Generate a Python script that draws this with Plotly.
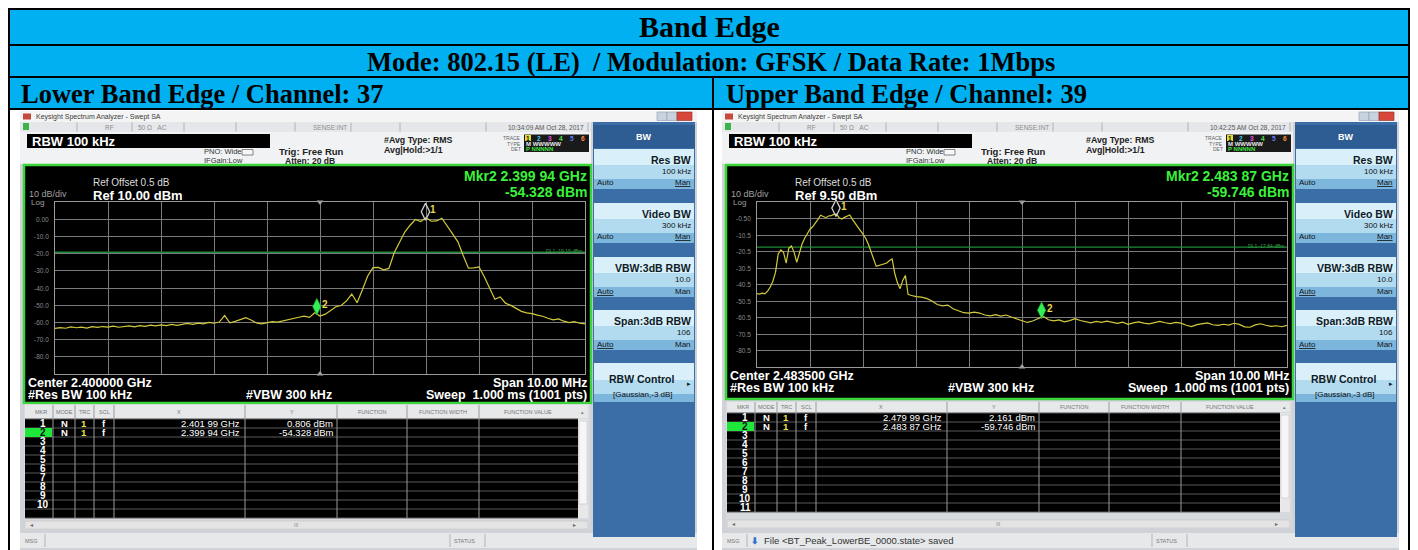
import numpy as np
import plotly.graph_objects as go

W, H = 1418, 550
OFF = 8  # the page body keeps an 8 px margin round the figure
FIG_W, FIG_H = W - OFF, H - OFF
SANS = "Liberation Sans, Arial, sans-serif"
SERIF = "Liberation Serif, Times New Roman, serif"
CELL_BLUE = "#00B0F0"

SPAN_GHZ = 0.010

LOW_CENTER_GHZ = 2.400
LOW_REF_DBM = 10.0
# 101 sweep points, 100 kHz apart (2.395 -> 2.405 GHz)
LOW_TRACE_DBM = [
    -63.5, -63.0, -63.4, -62.6, -63.1, -62.8, -63.3, -62.5, -62.9, -62.4,
    -62.7, -62.2, -62.8, -62.3, -62.0, -62.6, -61.9, -62.3, -61.6, -62.0,
    -61.5, -61.9, -61.2, -61.7, -61.0, -60.6, -61.1, -60.4, -60.8, -60.0,
    -60.5, -59.8, -56.0, -60.2, -59.4, -58.2, -57.3, -58.6, -60.3, -60.8,
    -60.2, -59.5, -59.8, -59.0, -58.3, -57.8, -57.0, -56.4, -57.1, -54.4,
    -56.3, -55.2, -52.8, -50.9, -50.2, -47.5, -43.5, -48.6, -41.0, -33.0,
    -28.2, -28.0, -29.4, -28.6, -19.5, -13.0, -7.5, -3.5, -0.2, -1.4,
    0.8, -1.2, -1.0, 0.6, -4.0, -8.5, -13.0, -21.0, -28.5, -28.3,
    -27.8, -33.5, -40.0, -46.5, -45.2, -48.8, -50.1, -51.9, -53.6, -54.5,
    -54.9, -55.8, -56.4, -57.6, -58.5, -58.0, -59.3, -60.1, -59.6, -60.5,
    -60.8,
]
LOW_MKR_GHZ = [2.40199, 2.39994]
LOW_MKR_DBM = [0.806, -54.328]
LOW_DL_DBM = -19.19
LOW_YTICK_TEXT = ["0.00", "-10.0", "-20.0", "-30.0", "-40.0", "-50.0", "-60.0", "-70.0", "-80.0"]

UP_CENTER_GHZ = 2.4835
UP_REF_DBM = 9.5
# 2.4785 -> 2.4815 GHz, 50 kHz apart
UP_TRACE_FINE_DBM = [
    -46.0, -46.3, -45.8, -46.2, -44.5, -42.0, -38.5, -33.0, -22.0, -19.5,
    -21.0, -27.5, -18.5, -17.2, -21.0, -27.0, -21.5, -16.0, -12.5, -9.5,
    -7.0, -5.5, -3.5, -1.0, 1.5, 0.6, 0.0, 1.0, 1.2, 2.0,
    2.2, 0.0, -0.8, 0.2, 0.8, 1.6, -1.0, -3.5, -5.5, -7.8,
    -10.0, -12.5, -16.0, -20.0, -25.0, -29.5, -29.0, -28.3, -27.9, -27.5,
    -26.0, -25.0, -34.0, -39.5, -43.0, -38.0, -35.0, -46.5, -47.0, -47.6,
    -47.8,
]
# 2.4816 -> 2.4885 GHz, 100 kHz apart
UP_TRACE_DBM = [
    -48.2, -48.9, -50.5, -52.6, -53.4, -53.0, -55.2, -56.3, -57.6,
    -57.9, -57.2, -57.8, -59.0, -59.5, -58.8, -59.6, -59.0, -60.2, -61.3,
    -62.0, -63.5, -62.6, -61.0, -59.8, -61.9, -62.6, -62.0, -63.1, -62.4,
    -61.2, -62.3, -63.0, -63.8, -62.9, -63.5, -62.7, -63.4, -64.0, -63.3,
    -64.6, -63.8, -63.2, -63.9, -64.4, -63.6, -62.9, -63.7, -64.2, -63.5,
    -63.9, -65.2, -66.0, -64.8, -64.2, -63.8, -64.9, -65.3, -64.6, -65.1,
    -64.0, -64.7, -66.2, -66.4, -65.0, -64.3, -65.2, -65.9, -65.5, -66.1,
    -65.3,
]
UP_MKR_GHZ = [2.47999, 2.48387]
UP_MKR_DBM = [2.161, -59.746]
UP_DL_DBM = -17.84
UP_YTICK_TEXT = ["-0.50", "-10.5", "-20.5", "-30.5", "-40.5", "-50.5", "-60.5", "-70.5", "-80.5"]

SOFTKEYS = [("Res BW", "100 kHz", "Man"), ("Video BW", "300 kHz", "Man"),
            ("VBW:3dB RBW", "10.0", "Auto"), ("Span:3dB RBW", "106", "Auto")]
MKR_HEADER = [("MKR", 41), ("MODE", 64), ("TRC", 84), ("SCL", 104), ("X", 179), ("Y", 292),
              ("FUNCTION", 372), ("FUNCTION WIDTH", 443), ("FUNCTION VALUE", 528)]

low_f = LOW_CENTER_GHZ - SPAN_GHZ / 2 + np.arange(len(LOW_TRACE_DBM)) * SPAN_GHZ / 100
up_start = UP_CENTER_GHZ - SPAN_GHZ / 2
up_f = np.concatenate([up_start + np.arange(len(UP_TRACE_FINE_DBM)) * SPAN_GHZ / 200,
                       up_start + 0.003 + np.arange(1, len(UP_TRACE_DBM) + 1) * SPAN_GHZ / 100])
up_dbm = UP_TRACE_FINE_DBM + UP_TRACE_DBM

shapes, annos = [], []


# page pixel -> paper fraction
def X(x):
    return (x - OFF) / FIG_W


def Y(y):
    return 1 - (y - OFF) / FIG_H


def box(x0, y0, x1, y1, fill="rgba(0,0,0,0)", line=None, lw=1):
    shapes.append(dict(type="rect", xref="paper", yref="paper", x0=X(x0), x1=X(x1), y0=Y(y1), y1=Y(y0),
                       fillcolor=fill, layer="below",
                       line=dict(color=line or "rgba(0,0,0,0)", width=lw if line else 0)))


def seg(x0, y0, x1, y1, color, lw=1):
    shapes.append(dict(type="line", xref="paper", yref="paper", x0=X(x0), x1=X(x1), y0=Y(y0), y1=Y(y1),
                       line=dict(color=color, width=lw), layer="below"))


def txt(x, y, s, size=8, color="#222", anchor="left", bold=False, family=SANS, under=False):
    font = dict(size=size, color=color, family=family)
    if bold:
        font["weight"] = "bold"
    if under:
        font["lineposition"] = "under"
    annos.append(dict(x=X(x), y=Y(y), xref="paper", yref="paper", text=s, showarrow=False,
                      xanchor=anchor, yanchor="middle", font=font, borderpad=0))


def ghz_str(f):
    s = f"{f:.5f}"
    return s[:5] + " " + s[5:] + " GHz"


# ---- document table header ----
box(9, 8, 1409, 109, CELL_BLUE)
for yy in (9, 45, 77, 109):
    seg(8, yy, 1410, yy, "#000", 2)
for xx in (9, 1409):
    seg(xx, 8, xx, 550, "#000", 2)
seg(713, 77, 713, 550, "#000", 2)
txt(709, 27, "Band Edge", 30, "#000", "center", True, SERIF)
txt(711, 61.5, "Mode: 802.15 (LE)  / Modulation: GFSK / Data Rate: 1Mbps", 26.5, "#000", "center", True, SERIF)
txt(20, 93.5, "Lower Band Edge / Channel: 37", 26.5, "#000", "left", True, SERIF)
txt(725, 93.5, "Upper Band Edge / Channel: 39", 26.5, "#000", "left", True, SERIF)

PANELS = [
    dict(ox=0, xa="x", ya="y", date="10:34:09 AM Oct 28, 2017", center=LOW_CENTER_GHZ, ref=LOW_REF_DBM,
         f=low_f, dbm=LOW_TRACE_DBM, mk_f=LOW_MKR_GHZ, mk_v=LOW_MKR_DBM, dl=LOW_DL_DBM, yt=LOW_YTICK_TEXT,
         msg="", disp_bot=403, grid_bot=374, cen_y=383, res_y=395, hdr=(405, 418), rows_top=419,
         nrows=10, scroll=(521, 529)),
    dict(ox=702, xa="x2", ya="y2", date="10:42:25 AM Oct 28, 2017", center=UP_CENTER_GHZ, ref=UP_REF_DBM,
         f=up_f, dbm=up_dbm, mk_f=UP_MKR_GHZ, mk_v=UP_MKR_DBM, dl=UP_DL_DBM, yt=UP_YTICK_TEXT,
         msg="File &lt;BT_Peak_LowerBE_0000.state&gt; saved", disp_bot=399, grid_bot=367, cen_y=376,
         res_y=388, hdr=(402, 412), rows_top=413, nrows=11, scroll=(520, 528)),
]
GRID_TOP = 202

fig = go.Figure()
for p in PANELS:
    o = p["ox"]
    # window frame + title bar
    box(o + 20, 111, o + 697, 550, "#cfd3d8")
    box(o + 20, 111, o + 697, 122, "#f4f4f4")
    box(o + 23, 113.5, o + 31, 119.5, "#c64a3c")
    txt(o + 35, 116.5, "Keysight Spectrum Analyzer - Swept SA", 7, "#3a3a3a")
    box(o + 657, 112, o + 667, 120.5, "#c9d3e0", "#8d9bb0", 0.6)
    box(o + 667, 112, o + 677, 120.5, "#c9d3e0", "#8d9bb0", 0.6)
    box(o + 677, 112, o + 692, 120.5, "#d9473a", "#8b2f26", 0.6)
    # status strip
    box(o + 20, 122, o + 591, 132, "#e5e7ea")
    box(o + 23, 123, o + 29, 130, "#3cb44b")
    for sx in (77, 132, 184, 236, 295, 351, 400, 486, 588):
        seg(o + sx, 122.5, o + sx, 131.5, "#aeb3b9")
    txt(o + 104, 127, "RF", 6.5, "#8c8c8c")
    txt(o + 137, 127, "50 Ω   AC", 6.5, "#8c8c8c")
    txt(o + 312, 127, "SENSE:INT", 6.5, "#8c8c8c")
    txt(o + 585, 127, p["date"], 6.5, "#555", "right")
    # setup row
    box(o + 20, 132, o + 591, 164, "#f0f2f4")
    box(o + 27, 134, o + 270, 148, "#000")
    txt(o + 31, 141, "RBW 100 kHz", 13, "#fff", bold=True)
    txt(o + 203, 152, "PNO: Wide", 7.5, "#333")
    box(o + 242, 149.5, o + 253, 155, "#f7f7f7", "#666", 0.8)
    txt(o + 203, 160.5, "IFGain:Low", 7.5, "#333")
    txt(o + 278, 151, "Trig: Free Run", 9.5, "#222", bold=True)
    txt(o + 284, 161, "Atten: 20 dB", 8.5, "#222", bold=True)
    txt(o + 383, 140, "#Avg Type: RMS", 8.8, "#222", bold=True)
    txt(o + 383, 150, "Avg|Hold:>1/1", 8.8, "#222", bold=True)
    txt(o + 522, 138, "TRACE", 5, "#666", "right")
    txt(o + 522, 143.5, "TYPE", 5, "#666", "right")
    txt(o + 522, 149, "DET", 5, "#666", "right")
    box(o + 524, 134.5, o + 589, 152, "#1a1a1a")
    box(o + 525, 135, o + 531, 141, "#e6dc3a")
    for i, c in enumerate(["#111", "#40d0f0", "#f050f0", "#50e050", "#6080ff", "#ff9040"]):
        txt(o + 528 + i * 11, 138.3, str(i + 1), 6.5, c, "center", True)
    txt(o + 525, 143.8, "M WWWWW", 6, "#e8e8e8", bold=True)
    txt(o + 525, 149.3, "P NNNNN", 6, "#40e040", bold=True)

    # display
    box(o + 24, 165, o + 591, p["disp_bot"], "#000", "#3bd43b", 2.5)
    mk2 = ghz_str(p["mk_f"][1])
    txt(o + 588, 176.5, "Mkr2 " + mk2, 14, "#3cf03c", "right", True)
    txt(o + 588, 191.5, f"{p['mk_v'][1]:.3f} dBm", 14, "#3cf03c", "right", True)
    txt(o + 92, 183, "Ref Offset 0.5 dB", 10, "#dcdcdc")
    txt(o + 28, 194, "10 dB/div", 9, "#a0a0a0")
    txt(o + 92, 195, f"Ref {p['ref']:.2f} dBm", 13, "#fff", bold=True)
    txt(o + 30, 202, "Log", 8, "#a0a0a0")
    txt(o + 27, p["cen_y"], f"Center {p['center']:.6f} GHz", 12.5, "#fff", bold=True)
    txt(o + 27, p["res_y"], "#Res BW 100 kHz", 12.5, "#fff", bold=True)
    txt(o + 245, p["res_y"], "#VBW 300 kHz", 12.5, "#fff", bold=True)
    txt(o + 588, p["cen_y"], "Span 10.00 MHz", 12.5, "#fff", "right", True)
    txt(o + 588, p["res_y"], "Sweep  1.000 ms (1001 pts)", 12.5, "#fff", "right", True)
    for i, t in enumerate(p["yt"]):
        annos.append(dict(x=X(o + 51), xref="paper", y=p["ref"] - 10 * (i + 1), yref=p["ya"], text=t,
                          showarrow=False, xanchor="right", yanchor="middle",
                          font=dict(size=6.5, color="#8a8a8a", family=SANS)))
    annos.append(dict(x=X(o + 584), xref="paper", y=p["dl"], yref=p["ya"], yshift=1,
                      text=f"DL1 {p['dl']:.2f} dBm", showarrow=False, xanchor="right", yanchor="middle",
                      font=dict(size=5, color="#3aa04a", family=SANS)))

    # marker table
    h0, h1 = p["hdr"]
    rt = p["rows_top"]
    rb = rt + 9 * 11
    s0, s1 = p["scroll"]
    box(o + 24, h0 - 1, o + 590, s1 + 1, "#d6d9dd")
    box(o + 25, h0, o + 588, h1, "#e6e8ea")
    for name, cx in MKR_HEADER:
        txt(o + cx, (h0 + h1) / 2, name, 5.5, "#777", "center")
    txt(o + 582, (h0 + h1) / 2, "▴", 5, "#777", "center")
    box(o + 25, rt, o + 578, rb, "#000")
    for r in range(12):
        seg(o + 25, rt + 9 * r, o + 578, rt + 9 * r, "#5a5a5a", 1)
    for cx in (53, 75, 94, 114, 245, 337, 407, 479):
        seg(o + cx, h0, o + cx, rb, "#9a9a9a", 1)
    box(o + 578, rt, o + 588, rb, "#e8e8e8")
    box(o + 579, rt + 2, o + 587, rb - 14, "#f6f6f6", "#b5b5b5", 0.5)
    box(o + 25, rt + 9, o + 52, rt + 18, "#1ee63a")
    for r in range(p["nrows"]):
        txt(o + 43, rt + 4.5 + 9 * r, str(r + 1), 10, "#111" if r == 1 else "#fff", "center", True)
    for r in range(2):
        yy = rt + 4.8 + 9 * r
        txt(o + 64, yy, "N", 9.5, "#fff", "center", True)
        txt(o + 84, yy, "1", 9.5, "#f0e040", "center", True)
        txt(o + 104, yy, "f", 9.5, "#fff", "center", True)
        txt(o + 241, yy, ghz_str(p["mk_f"][r]), 9.5, "#fff", "right")
        txt(o + 334, yy, f"{p['mk_v'][r]:.3f} dBm", 9.5, "#fff", "right")
    box(o + 25, s0, o + 588, s1, "#e4e4e4", "#bdbdbd", 0.5)
    txt(o + 31, (s0 + s1) / 2, "◂", 6, "#666", "center")
    txt(o + 296, (s0 + s1) / 2, "III", 5, "#888", "center")
    txt(o + 574, (s0 + s1) / 2, "▸", 6, "#666", "center")
    # message bar
    box(o + 20, 533, o + 697, 548, "#e6e8ea")
    seg(o + 45, 534, o + 45, 547, "#b0b4ba")
    seg(o + 450, 534, o + 450, 547, "#b0b4ba")
    seg(o + 485, 534, o + 485, 547, "#b0b4ba")
    txt(o + 24, 540.5, "MSG", 5.5, "#777")
    txt(o + 453, 540.5, "STATUS", 5.5, "#777")
    if p["msg"]:
        txt(o + 48, 540.5, "⬇", 9, "#2e6fd0", bold=True)
        txt(o + 61, 540.5, p["msg"], 9.5, "#333")

    # softkey panel
    box(o + 593, 122, o + 695, 537, "#3b6ea6")
    box(o + 593, 125, o + 695, 148, "#2d5d92")
    txt(o + 644, 137, "BW", 9, "#fff", "center", True)
    for (title, val, und), top in zip(SOFTKEYS, (149, 203, 257, 310)):
        box(o + 594, top, o + 694, top + 16, "#d9f0fa")
        box(o + 594, top + 16, o + 694, top + 30, "#b2dbf0")
        box(o + 594, top + 30, o + 694, top + 40, "#7db6dc")
        txt(o + 692, top + 11, title, 10.5, "#0e1a26", "right", True)
        txt(o + 692, top + 22.5, val, 8, "#111", "right")
        txt(o + 596, top + 34, "Auto", 8, "#111", under=(und == "Auto"))
        txt(o + 692, top + 34, "Man", 8, "#111", "right", under=(und == "Man"))
    box(o + 594, 363, o + 694, 380, "#d9f0fa")
    box(o + 594, 380, o + 694, 394, "#b2dbf0")
    box(o + 594, 394, o + 694, 402, "#7db6dc")
    txt(o + 641, 379, "RBW Control", 10.5, "#0e1a26", "center", True)
    txt(o + 692, 383, "▸", 7, "#0e1a26", "right")
    txt(o + 643, 394, "[Gaussian,-3 dB]", 8, "#111", "center")

    # traces
    fmin = p["center"] - SPAN_GHZ / 2
    fmax = p["center"] + SPAN_GHZ / 2
    lift = 6.0 / ((p["grid_bot"] - GRID_TOP) / 100.0)
    ax = dict(xaxis=p["xa"], yaxis=p["ya"], hoverinfo="skip")
    fig.add_trace(go.Scatter(x=[fmin, fmax], y=[p["dl"], p["dl"]], mode="lines",
                             line=dict(color="#1f8a3a", width=1.4), **ax))
    fig.add_trace(go.Scatter(x=[p["center"], p["center"]], y=[p["ref"], p["ref"] - 100], mode="markers",
                             marker=dict(symbol=["triangle-down", "triangle-up"], size=6, color="#a0a0a0"),
                             cliponaxis=False, **ax))
    fig.add_trace(go.Scatter(x=p["f"], y=p["dbm"], mode="lines",
                             line=dict(color="#d2ca3c", width=1.2), **ax))
    fig.add_trace(go.Scatter(x=[p["mk_f"][0]], y=[p["mk_v"][0] + lift], mode="markers",
                             marker=dict(symbol="diamond-tall-open", size=12, color="#d0d0d0",
                                         line=dict(width=1.3, color="#d0d0d0")), cliponaxis=False, **ax))
    fig.add_trace(go.Scatter(x=[p["mk_f"][1]], y=[p["mk_v"][1] + lift], mode="markers",
                             marker=dict(symbol="diamond-tall", size=12, color="#33ee55",
                                         line=dict(width=0.6, color="#1a9a30")), cliponaxis=False, **ax))
    for k in range(2):
        annos.append(dict(x=p["mk_f"][k], y=p["mk_v"][k] + lift, xref=p["xa"], yref=p["ya"],
                          text=str(k + 1), showarrow=False, xshift=8, yshift=2,
                          font=dict(size=10, color="#e8d84a", family=SANS, weight="bold")))

    xa_key = "xaxis" if p["xa"] == "x" else "xaxis2"
    ya_key = "yaxis" if p["ya"] == "y" else "yaxis2"
    fig.update_layout(**{
        xa_key: dict(domain=[X(o + 55), X(o + 585)], range=[fmin, fmax], anchor=p["ya"],
                     tickvals=[fmin + i * SPAN_GHZ / 10 for i in range(11)], showticklabels=False,
                     showgrid=True, gridcolor="#7a7a7a", gridwidth=1, zeroline=False,
                     showline=True, linecolor="#9a9a9a", mirror=True, ticks="", fixedrange=True),
        ya_key: dict(domain=[Y(p["grid_bot"]), Y(GRID_TOP)], range=[p["ref"] - 100, p["ref"]], anchor=p["xa"],
                     tickvals=[p["ref"] - 10 * i for i in range(11)], showticklabels=False,
                     showgrid=True, gridcolor="#7a7a7a", gridwidth=1, zeroline=False,
                     showline=True, linecolor="#9a9a9a", mirror=True, ticks="", fixedrange=True),
    })

fig.update_layout(
    width=FIG_W, height=FIG_H,
    margin=dict(l=0, r=0, t=0, b=0),
    paper_bgcolor="#ffffff",
    plot_bgcolor="#000000",
    showlegend=False,
    shapes=shapes,
    annotations=annos,
    font=dict(family=SANS),
)

fig.write_html("out.html")
